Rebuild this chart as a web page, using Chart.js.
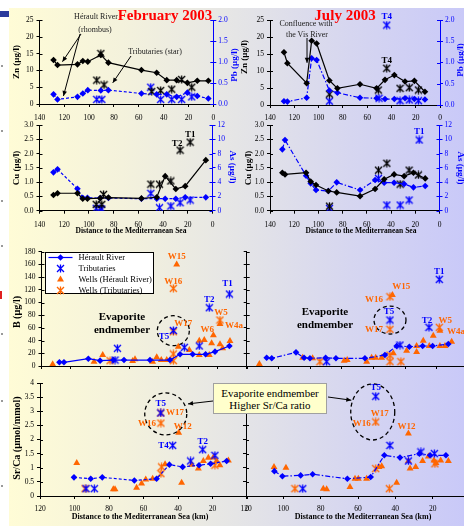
<!DOCTYPE html>
<html><head><meta charset="utf-8">
<script src="https://cdn.jsdelivr.net/npm/chart.js@4"></script>
<style>
html,body{margin:0;padding:0;overflow:hidden;background:#fff;}
#wrap{position:relative;width:464px;height:526px;overflow:hidden;background:#fff;}
#bg{position:absolute;left:9px;top:8px;width:455px;height:518px;background:linear-gradient(90deg,#fffcd6 0%,#f4f2dc 25%,#e5e5e6 50%,#d6d6f0 75%,#c9c9f8 100%);}
canvas{position:absolute;left:0;top:0;}
.t{position:absolute;transform:translate(-50%,-50%);white-space:nowrap;font-family:"Liberation Serif","Times New Roman",serif;line-height:1;}
.r{transform:translate(-50%,-50%) rotate(-90deg);}
.r2{transform:translate(-50%,-50%) rotate(90deg);}
.b{font-weight:bold;}
.m{position:absolute;}
</style></head>
<body><div id="wrap">
<div id="bg"></div>
<div class="m" style="left:0;top:11px;width:9px;height:6px;background:#2b3a9c"></div>
<div class="m" style="left:0;top:291px;width:2px;height:8px;background:#e02020"></div>
<div class="m" style="left:1px;top:65px;width:2px;height:2px;background:#999"></div>
<div class="m" style="left:1px;top:130px;width:2px;height:2px;background:#999"></div>
<div class="m" style="left:1px;top:200px;width:2px;height:2px;background:#999"></div>
<div class="m" style="left:1px;top:245px;width:2px;height:2px;background:#999"></div>
<div class="m" style="left:1px;top:333px;width:2px;height:2px;background:#999"></div>
<div class="m" style="left:1px;top:400px;width:2px;height:2px;background:#999"></div>
<div class="m" style="left:1px;top:485px;width:2px;height:2px;background:#999"></div>
<canvas id="c1" width="520" height="526"></canvas>
<canvas id="c2" width="520" height="526"></canvas>
<canvas id="c3" width="520" height="526"></canvas>
<canvas id="c4" width="520" height="526"></canvas>
<canvas id="c5" width="520" height="526"></canvas>
<canvas id="c6" width="520" height="526"></canvas>
<canvas id="c7" width="520" height="526"></canvas>
<canvas id="c8" width="520" height="526"></canvas>

<div class="t b" style="left:165px;top:15px;font-size:15px;color:#f00">February 2003</div>
<div class="t b" style="left:345px;top:15px;font-size:15px;color:#f00">July 2003</div>
<div class="t" style="left:96px;top:17px;font-size:8px;color:#222">Hérault River</div>
<div class="t" style="left:95px;top:30px;font-size:8px;color:#222">(rhombus)</div>
<div class="t" style="left:155px;top:52px;font-size:8px;color:#222">Tributaries (star)</div>
<div class="t" style="left:306px;top:24px;font-size:8px;color:#222">Confluence with</div>
<div class="t" style="left:307px;top:35px;font-size:8px;color:#222">the Vis River</div>

<div class="t b r" style="left:16px;top:62px;font-size:9px">Zn (µg/l)</div>
<div class="t b r" style="left:234px;top:65px;font-size:9px;color:#00f">Pb (µg/l)</div>
<div class="t b r" style="left:244px;top:57px;font-size:9px">Zn (µg/l)</div>
<div class="t b r" style="left:460px;top:60px;font-size:9px;color:#00f">Pb (µg/l)</div>
<div class="t b r" style="left:16px;top:168px;font-size:9px">Cu (µg/l)</div>
<div class="t b r2" style="left:232px;top:167px;font-size:9px;color:#00f">As (µg/l)</div>
<div class="t b r" style="left:248px;top:168px;font-size:9px">Cu (µg/l)</div>
<div class="t b r2" style="left:460px;top:168px;font-size:9px;color:#00f">As (µg/l)</div>
<div class="t b" style="left:131px;top:231px;font-size:7.5px">Distance to the Mediterranean Sea</div>
<div class="t b" style="left:361px;top:231px;font-size:7.5px">Distance to the Mediterranean Sea</div>
<div class="t b r" style="left:17px;top:312px;font-size:10px">B (µg/l)</div>
<div class="t b r" style="left:17px;top:438px;font-size:10px">Sr/Ca (µmol/mmol)</div>
<div class="t b" style="left:140px;top:517px;font-size:8px">Distance to the Mediterranean Sea (km)</div>
<div class="t b" style="left:363px;top:517px;font-size:8px">Distance to the Mediterranean Sea (km)</div>
<div class="t b" style="left:122px;top:322.5px;font-size:11px;line-height:13px;text-align:center">Evaporite<br>endmember</div>
<div class="t b" style="left:325px;top:317.5px;font-size:11px;line-height:13px;text-align:center">Evaporite<br>endmember</div>
<div class="m" style="left:213px;top:383px;width:114px;background:#ffffcc;border:1px solid #a0a0a0;font-family:'Liberation Serif','Times New Roman',serif;font-size:11px;line-height:12px;text-align:center;padding-top:3px;box-sizing:border-box;height:31px">Evaporite endmember<br>Higher Sr/Ca ratio</div>
</div>
<script>
// ---------------- DATA ----------------
// February 2003 – Zn / Pb
const febKmZn = [128.7, 125.5, 109.4, 105.1, 101.1, 90.6, 84.5, 57.9, 45.6, 37.5, 29.5, 20.9, 12.9, 4.0];
const febZn   = [13.1, 11.6, 11.8, 12.8, 12.6, 14.6, 12.3, 10.1, 9.3, 7.1, 7.1, 6.3, 6.9, 6.9];
const febPb   = [0.23, 0.11, 0.17, 0.25, 0.33, 0.32, 0.33, 0.25, 0.23, 0.23, 0.17, 0.27, 0.19, 0.13];
const febTribKmZn = [93.9, 88.0, 90.6, 49.6, 42.4, 33.5, 25.5, 17.4];
const febTribZn   = [7.1, 5.7, 15.0, 3.7, 4.0, 4.4, 7.3, 5.0];
const febTribKmPb = [93.9, 89.8, 50.4, 42.4, 33.5, 25.5, 17.4];
const febTribPb   = [0.11, 0.11, 0.40, 0.11, 0.11, 0.11, 0.17];
// July 2003 – Zn / Pb
const julKmZn = [128.5, 125.7, 109.8, 105.7, 101.6, 91.1, 84.5, 65.9, 52.2, 45.3, 37.6, 28.8, 21.1, 12.4];
const julZn   = [15.5, 12.3, 6.4, 18.9, 18.1, 7.2, 4.9, 6.1, 4.9, 7.4, 8.8, 6.9, 7.1, 3.9];
const julPb   = [0.09, 0.08, 0.17, 1.10, 1.06, 0.34, 0.29, 0.17, 0.16, 0.14, 0.14, 0.16, 0.14, 0.13];
const julTribKmZn = [91.1, 50.8, 43.9, 32.9, 25.3, 17.8];
const julTribZn   = [3.2, 4.4, 10.8, 4.9, 5.1, 4.4];
const julTribKmPb = [91.1, 50.2, 43.9, 32.9, 25.3, 17.8];
const julTribPb   = [0.09, 0.16, 1.88, 0.10, 0.12, 0.10];
// February 2003 – Cu / As
const febKmCu = [128.7, 125.4, 109.3, 105.0, 101.2, 90.9, 84.2, 57.5, 45.1, 38.3, 29.7, 22.1, 5.4];
const febCu   = [0.55, 0.61, 0.61, 0.42, 0.42, 0.44, 0.46, 0.43, 0.47, 1.21, 0.76, 0.86, 1.77];
const febAs   = [5.37, 5.79, 3.08, 1.82, 1.82, 1.77, 1.77, 1.68, 1.68, 1.68, 1.68, 1.87, 1.87];
const febTribKmCu = [94.1, 89.6, 88.2, 49.9, 42.9, 33.7, 26.2, 18.1];
const febTribCu   = [0.22, 0.22, 0.57, 0.93, 0.93, 1.04, 2.12, 2.40];
const febTribKmAs = [94.1, 90.9, 89.6, 49.9, 42.9, 33.7, 26.2, 18.1];
const febTribAs   = [0.33, 0.33, 0.23, 2.43, 0.42, 0.65, 1.12, 1.49];
// July 2003 – Cu / As
const julKmCu = [129.8, 127.6, 110.2, 106.4, 102.0, 91.8, 84.9, 65.6, 53.2, 45.7, 37.5, 29.2, 21.5, 11.8];
const julCu   = [1.33, 1.27, 1.33, 1.02, 0.90, 0.69, 0.64, 0.51, 0.76, 1.10, 1.27, 1.21, 1.33, 1.13];
const julAs   = [8.59, 9.90, 4.90, 3.83, 2.89, 2.75, 3.97, 2.89, 4.30, 3.92, 3.92, 3.73, 3.27, 3.45];
const julTribKmCu = [90.9, 50.4, 43.5, 32.5, 25.1, 17.4];
const julTribCu   = [0.16, 1.42, 1.66, 0.93, 1.42, 1.25];
const julTribKmAs = [90.9, 50.4, 43.5, 32.5, 25.1, 16.8];
const julTribAs   = [0.33, 4.53, 0.79, 0.79, 1.49, 9.90];
// February 2003 – B
const febKmB = [127.8, 124.7, 108.1, 100.1, 91.1, 83.8, 66.1, 52.5, 45.6, 37.0, 28.2, 21.8, 12.0];
const febB   = [5.8, 5.8, 11.5, 8.4, 9.4, 9.4, 9.4, 9.4, 18.4, 18.4, 18.4, 22.6, 31.5];
const febTribKmB = [89.9, 88.3, 50.2, 42.7, 32.5, 25.7, 12.0];
const febTribB   = [9.4, 27.8, 56.0, 29.4, 31.5, 91.8, 113.3];
const febWellHKmB = [132.4, 104.2, 98.3, 77.9, 76.3, 64.3, 61.5, 58.4, 54.7, 47.9, 46.8, 39.3, 32.5, 32.5, 29.1, 25.7, 24.1, 22.9, 18.4, 16.6, 11.6, 18.4];
const febWellHB   = [2.6, 6.8, 17.3, 7.9, 10.5, 6.8, 13.6, 9.4, 9.4, 160, 30.4, 25.2, 39.9, 17.3, 41.0, 17.3, 35.7, 48.3, 34.1, 27.8, 39.4, 66.0];
const febWellTKmB = [93.3, 50.2, 50.2, 50.2, 50.2, 18.4];
const febWellTB   = [8.4, 8.4, 18.9, 122.3, 54.0, 72.4];
// July 2003 – B
const julKmB = [127.4, 124.2, 108.9, 103.8, 100.1, 90.2, 83.7, 65.4, 52.8, 45.4, 37.4, 29.0, 22.7, 12.8];
const julB   = [13.1, 12.1, 21.5, 13.1, 12.1, 13.1, 12.1, 12.1, 17.3, 31.5, 30.4, 31.5, 31.5, 34.6];
const julTribKmB = [89.6, 49.6, 43.3, 25.0, 18.5];
const julTribB   = [6.8, 72.4, 33.0, 60.9, 136.4];
const julWellHKmB = [132.0, 104.7, 98.4, 78.5, 76.6, 64.3, 61.2, 58.6, 54.9, 48.1, 47.5, 39.1, 32.8, 32.8, 28.6, 22.3, 24.8, 18.1, 14.9, 10.7, 18.1];
const julWellHB   = [3.1, 13.1, 12.1, 8.4, 9.4, 6.8, 13.1, 13.1, 13.1, 111.8, 19.9, 24.1, 31.5, 22.0, 39.9, 47.8, 31.5, 31.5, 31.5, 38.3, 55.6];
const julWellTKmB = [93.8, 49.6, 49.6, 49.6, 49.6, 42.7, 18.5];
const julWellTB   = [6.8, 109.0, 57.7, 6.8, 17.0, 6.8, 60.9];
// February 2003 – Sr/Ca
const febKmSr = [100.3, 90.6, 83.9, 65.3, 52.4, 45.0, 37.3, 27.8, 21.1, 11.8];
const febSr   = [0.66, 0.61, 0.66, 0.55, 0.61, 1.11, 1.03, 1.09, 1.14, 1.24];
const febTribKmSr = [93.3, 88.5, 50.0, 43.1, 32.7, 25.7, 18.6];
const febTribSr   = [0.26, 0.26, 2.94, 1.79, 1.24, 1.64, 1.44];
const febWellHKmSr = [98.7, 77.5, 76.5, 64.0, 61.1, 58.7, 54.7, 47.5, 39.6, 37.9, 32.1, 28.2, 25.3, 22.4, 19.5, 17.6, 15.7, 10.8];
const febWellHSr   = [1.17, 0.24, 0.24, 0.29, 0.44, 0.58, 0.61, 1.12, 2.24, 0.47, 1.11, 0.97, 1.24, 1.35, 1.36, 1.24, 1.09, 1.26];
const febWellTKmSr = [93.9, 49.9, 49.9, 49.9, 49.5, 18.6];
const febWellTSr   = [0.26, 2.94, 2.58, 0.79, 1.03, 1.09];
// July 2003 – Sr/Ca
const julKmSr = [104.8, 100.5, 90.7, 84.3, 65.7, 53.2, 45.9, 37.5, 27.1, 21.4, 12.9];
const julSr   = [0.88, 0.70, 0.73, 0.77, 0.61, 0.67, 1.44, 1.36, 1.50, 1.44, 1.44];
const julTribKmSr = [89.6, 50.5, 42.9, 33.0, 26.3, 19.1];
const julTribSr   = [0.26, 3.53, 1.79, 1.24, 1.56, 1.50];
const julWellHKmSr = [105.0, 98.6, 78.6, 76.8, 64.3, 61.6, 59.8, 55.4, 48.8, 47.3, 39.3, 33.0, 33.0, 32.1, 29.1, 25.4, 22.3, 19.3, 18.2, 15.7, 11.6];
const julWellHSr   = [1.03, 1.00, 0.26, 0.24, 0.32, 0.61, 0.61, 0.61, 1.03, 1.05, 0.47, 2.21, 1.24, 0.97, 1.03, 1.24, 1.40, 1.26, 1.17, 1.26, 1.24];
const julWellTKmSr = [93.8, 50.5, 50.5, 43.2, 18.8];
const julWellTSr   = [0.26, 2.62, 0.97, 0.26, 1.14];

// ---------------- STYLE / HELPERS ----------------
const W = 520, H = 526;
const AXL = 30, AXR = 25, AXB = 22;   // fixed axis box sizes
const FONT = '"Liberation Serif", "Times New Roman", serif';
const BLUE = '#0000ff', ORANGE = '#ff6600', BLACK = '#000000';
Chart.defaults.font.family = FONT;

function starImg(color) {
  const c = document.createElement('canvas'); c.width = 9; c.height = 9;
  const g = c.getContext('2d'); g.strokeStyle = color; g.lineWidth = 1.3;
  g.beginPath(); g.moveTo(1, 1); g.lineTo(8, 8); g.moveTo(8, 1); g.lineTo(1, 8);
  g.moveTo(4.5, 0.5); g.lineTo(4.5, 8.5); g.stroke();
  return c;
}
const pts = (xs, ys) => xs.map((x, i) => ({ x, y: ys[i] }));
function river(label, xs, ys, color, dash, yID) {
  return { label, data: pts(xs, ys), yAxisID: yID || 'y', showLine: true, borderColor: color, borderWidth: 1.2,
    borderDash: dash || [], pointStyle: 'rectRot', pointRadius: 3.3, pointBackgroundColor: color,
    pointBorderColor: color, pointBorderWidth: 0, backgroundColor: color };
}
function stars(label, xs, ys, color, yID) {
  return { label, data: pts(xs, ys), yAxisID: yID || 'y', showLine: false, pointStyle: starImg(color), pointRadius: 4.5,
    pointBackgroundColor: color, pointBorderColor: color, backgroundColor: color, borderColor: color };
}
function tris(label, xs, ys) {
  return { label, data: pts(xs, ys), yAxisID: 'y', showLine: false, pointStyle: 'triangle', pointRadius: 4,
    pointBackgroundColor: ORANGE, pointBorderColor: ORANGE, pointBorderWidth: 0, backgroundColor: ORANGE, borderColor: ORANGE };
}
function fixFit(s) {
  if (s.isHorizontal()) s.height = AXB;
  else s.width = s.position === 'left' ? AXL : AXR;
  s.paddingLeft = s.paddingRight = s.paddingTop = s.paddingBottom = 0;
}
function lin(pos, min, max, step, o = {}) {
  const col = o.color || BLACK;
  return {
    type: 'linear', position: pos, min, max, reverse: !!o.reverse, afterFit: fixFit,
    border: { display: true, color: col, width: 1 },
    grid: { display: true, drawOnChartArea: false, drawTicks: true, tickLength: 3, color: col, lineWidth: 1 },
    ticks: { display: o.labels !== false, stepSize: step, color: col, autoSkip: false, maxRotation: 0,
      padding: o.pad != null ? o.pad : 3, font: { family: FONT, size: 7.5 }, callback: o.fmt || (v => String(v)) }
  };
}
const f1 = v => v.toFixed(1);

const ANN = {};
function resolvePt(chart, p) {
  if (p.px != null) return [p.px, p.py];
  return [chart.scales.x.getPixelForValue(p.x), chart.scales[p.s || 'y'].getPixelForValue(p.y)];
}
const innerTicks = {
  id: 'innerTicks',
  afterDraw(chart) {
    const ctx = chart.ctx;
    Object.values(chart.scales).forEach(s => {
      if (s.isHorizontal()) return;
      ctx.save(); ctx.strokeStyle = s.options.border.color; ctx.lineWidth = 1; ctx.beginPath();
      const left = s.position === 'left';
      const x = left ? chart.chartArea.left : chart.chartArea.right, dir = left ? 1 : -1;
      s.ticks.forEach((t, i) => {
        const y = Math.round(s.getPixelForTick(i)) + 0.5;
        ctx.moveTo(x, y); ctx.lineTo(x + dir * 3, y);
      });
      ctx.stroke(); ctx.restore();
    });
  }
};
const annotPlugin = {
  id: 'annotPlugin',
  afterDraw(chart) {
    const a = ANN[chart.canvas.id]; if (!a) return;
    const ctx = chart.ctx;
    (a.circles || []).forEach(c => {
      const p = chart.getDatasetMeta(c.d).data[c.i];
      ctx.save(); ctx.strokeStyle = '#000'; ctx.lineWidth = 1.3; ctx.setLineDash([4, 3]);
      ctx.beginPath(); ctx.ellipse(p.x + c.dx, p.y + c.dy, c.rx, c.ry, 0, 0, Math.PI * 2); ctx.stroke(); ctx.restore();
    });
    (a.arrows || []).forEach(ar => {
      const [x1, y1] = resolvePt(chart, ar.from), [x2, y2] = resolvePt(chart, ar.to);
      ctx.save(); ctx.strokeStyle = '#000'; ctx.fillStyle = '#000'; ctx.lineWidth = 1;
      ctx.beginPath(); ctx.moveTo(x1, y1); ctx.lineTo(x2, y2); ctx.stroke();
      const ang = Math.atan2(y2 - y1, x2 - x1), L = 5, Wd = 2.3;
      ctx.beginPath(); ctx.moveTo(x2, y2);
      ctx.lineTo(x2 - L * Math.cos(ang) + Wd * Math.sin(ang), y2 - L * Math.sin(ang) - Wd * Math.cos(ang));
      ctx.lineTo(x2 - L * Math.cos(ang) - Wd * Math.sin(ang), y2 - L * Math.sin(ang) + Wd * Math.cos(ang));
      ctx.closePath(); ctx.fill(); ctx.restore();
    });
    (a.labels || []).forEach(l => {
      const p = chart.getDatasetMeta(l.d).data[l.i];
      ctx.save(); ctx.font = 'bold 9px ' + FONT; ctx.fillStyle = l.c; ctx.textAlign = l.a || 'center';
      ctx.textBaseline = 'middle'; ctx.fillText(l.t, p.x + (l.dx || 0), p.y + (l.dy || 0)); ctx.restore();
    });
    if (a.legend) {
      const ca = chart.chartArea, x0 = Math.round(ca.left + 3) + 0.5, y0 = Math.round(ca.top) + 0.5, w = 108, h = 41;
      ctx.save(); ctx.fillStyle = '#fff'; ctx.strokeStyle = '#000'; ctx.lineWidth = 1;
      ctx.fillRect(x0, y0, w, h); ctx.strokeRect(x0, y0, w, h);
      chart.data.datasets.forEach((ds, k) => {
        const y = y0 + 5 + k * 11;
        if (ds.showLine) {
          ctx.strokeStyle = ds.borderColor; ctx.lineWidth = 1.2; ctx.setLineDash(ds.borderDash || []);
          ctx.beginPath(); ctx.moveTo(x0 + 3, y); ctx.lineTo(x0 + 27, y); ctx.stroke(); ctx.setLineDash([]);
        }
        ctx.fillStyle = ds.pointBackgroundColor; ctx.strokeStyle = ds.pointBorderColor;
        Chart.helpers.drawPoint(ctx, { pointStyle: ds.pointStyle, radius: ds.pointRadius, rotation: 0, borderWidth: 0 }, x0 + 15, y);
        ctx.fillStyle = '#000'; ctx.font = '8.5px ' + FONT; ctx.textAlign = 'left'; ctx.textBaseline = 'middle';
        ctx.fillText(ds.label, x0 + 33, y);
      });
      ctx.restore();
    }
  }
};
Chart.register(innerTicks, annotPlugin);

function panel(id, box, scales, datasets, ann) {
  ANN[id] = ann || {};
  const hasRight = Object.values(scales).some(s => s.position === 'right');
  return new Chart(document.getElementById(id), {
    type: 'scatter',
    data: { datasets },
    options: {
      responsive: false, animation: false, events: [],
      layout: { padding: { left: box[0] - AXL, top: box[1], right: W - box[2] - (hasRight ? AXR : 0), bottom: H - box[3] - AXB } },
      plugins: { legend: { display: false }, tooltip: { enabled: false } },
      scales
    }
  });
}
const DASH = [3, 2], DASHDOT = [5, 2, 1.5, 2];

// ---------------- PANELS ----------------
// Zn / Pb February
panel('c1', [39.5, 20, 213.3, 104], {
  x: lin('bottom', 0, 140, 20, { reverse: true, pad: 7 }),
  y: lin('left', 0, 25, 5),
  y2: lin('right', 0, 2, 0.5, { color: BLUE, fmt: f1, pad: 2 })
}, [
  river('Hérault River', febKmZn, febZn, BLACK, [], 'y'),
  river('Hérault River', febKmZn, febPb, BLUE, DASH, 'y2'),
  stars('Tributaries', febTribKmZn, febTribZn, BLACK, 'y'),
  stars('Tributaries', febTribKmPb, febTribPb, BLUE, 'y2')
], {
  arrows: [
    { from: { px: 81, py: 34 }, to: { x: 121.5, y: 12.6 } },
    { from: { px: 80, py: 34 }, to: { x: 120.7, y: 0.19, s: 'y2' } },
    { from: { px: 131, py: 56 }, to: { x: 81, y: 6.3 } }
  ]
});
// Zn / Pb July
panel('c2', [270, 20, 440, 105], {
  x: lin('bottom', 0, 140, 20, { reverse: true, pad: 6 }),
  y: lin('left', 0, 25, 5),
  y2: lin('right', 0, 2, 0.5, { color: BLUE, fmt: f1, pad: 2 })
}, [
  river('Hérault River', julKmZn, julZn, BLACK, [], 'y'),
  river('Hérault River', julKmZn, julPb, BLUE, DASHDOT, 'y2'),
  stars('Tributaries', julTribKmZn, julTribZn, BLACK, 'y'),
  stars('Tributaries', julTribKmPb, julTribPb, BLUE, 'y2')
], {
  labels: [{ d: 3, i: 2, t: 'T4', c: BLUE, dy: -8 }, { d: 2, i: 2, t: 'T4', c: BLACK, dy: -8 }],
  arrows: [{ from: { px: 307, py: 38 }, to: { x: 109.5, y: 12.4 } }]
});
// Cu / As February
panel('c3', [39.5, 125, 212.5, 210.7], {
  x: lin('bottom', 0, 140, 20, { reverse: true, pad: 7 }),
  y: lin('left', 0, 3, 0.5, { fmt: f1 }),
  y2: lin('right', 0, 12, 2, { color: BLUE, pad: 2 })
}, [
  river('Hérault River', febKmCu, febCu, BLACK, [], 'y'),
  river('Hérault River', febKmCu, febAs, BLUE, DASH, 'y2'),
  stars('Tributaries', febTribKmCu, febTribCu, BLACK, 'y'),
  stars('Tributaries', febTribKmAs, febTribAs, BLUE, 'y2')
], {
  labels: [{ d: 2, i: 6, t: 'T2', c: BLACK, dx: -3, dy: -6 }, { d: 2, i: 7, t: 'T1', c: BLACK, dy: -7 }]
});
// Cu / As July
panel('c4', [270, 125, 439.5, 210.7], {
  x: lin('bottom', 0, 140, 20, { reverse: true, pad: 7 }),
  y: lin('left', 0, 3, 0.5, { fmt: f1 }),
  y2: lin('right', 0, 12, 2, { color: BLUE, pad: 2 })
}, [
  river('Hérault River', julKmCu, julCu, BLACK, [], 'y'),
  river('Hérault River', julKmCu, julAs, BLUE, DASHDOT, 'y2'),
  stars('Tributaries', julTribKmCu, julTribCu, BLACK, 'y'),
  stars('Tributaries', julTribKmAs, julTribAs, BLUE, 'y2')
], {
  labels: [{ d: 3, i: 5, t: 'T1', c: BLUE, dy: -8 }]
});
// B February
panel('c5', [41.5, 251.7, 247, 366], {
  x: lin('bottom', 0, 140, 20, { reverse: true, labels: false }),
  y: lin('left', 0, 180, 20)
}, [
  river('Hérault River', febKmB, febB, BLUE, []),
  stars('Tributaries', febTribKmB, febTribB, BLUE),
  tris('Wells (Hérault River)', febWellHKmB, febWellHB),
  stars('Wells (Tributaries)', febWellTKmB, febWellTB, ORANGE)
], {
  legend: true,
  circles: [{ d: 3, i: 4, dx: 0, dy: -1, rx: 16, ry: 15 }],
  labels: [
    { d: 1, i: 6, t: 'T1', c: BLUE, dx: -2, dy: -10 },
    { d: 1, i: 5, t: 'T2', c: BLUE, dy: -8 },
    { d: 1, i: 2, t: 'T5', c: BLUE, a: 'right', dx: -4, dy: 6 },
    { d: 2, i: 9, t: 'W15', c: ORANGE, dy: -8 },
    { d: 2, i: 12, t: 'W6', c: ORANGE, dx: 8, dy: -11 },
    { d: 2, i: 21, t: 'W4a', c: ORANGE, a: 'left', dx: 5, dy: 2 },
    { d: 3, i: 3, t: 'W16', c: ORANGE, dy: -7 },
    { d: 3, i: 4, t: 'W17', c: ORANGE, a: 'left', dx: 1, dy: -8 },
    { d: 3, i: 5, t: 'W5', c: ORANGE, dx: 1, dy: -7 }
  ]
});
// B July
panel('c6', [246.7, 251.7, 468.6, 366], {
  x: lin('bottom', 0, 140, 20, { reverse: true, labels: false }),
  y: lin('left', 0, 180, 20, { labels: false })
}, [
  river('Hérault River', julKmB, julB, BLUE, DASHDOT),
  stars('Tributaries', julTribKmB, julTribB, BLUE),
  tris('Wells (Hérault River)', julWellHKmB, julWellHB),
  stars('Wells (Tributaries)', julWellTKmB, julWellTB, ORANGE)
], {
  circles: [{ d: 1, i: 1, dx: 0, dy: 0, rx: 16, ry: 14 }],
  labels: [
    { d: 1, i: 4, t: 'T1', c: BLUE, dy: -8 },
    { d: 1, i: 3, t: 'T2', c: BLUE, dx: -2, dy: -7 },
    { d: 1, i: 1, t: 'T5', c: BLUE, dx: -1, dy: -8 },
    { d: 2, i: 9, t: 'W15', c: ORANGE, dx: 9, dy: -8 },
    { d: 2, i: 20, t: 'W4a', c: ORANGE, a: 'left', dx: 7, dy: 1 },
    { d: 3, i: 1, t: 'W16', c: ORANGE, a: 'right', dx: -7, dy: 3 },
    { d: 3, i: 2, t: 'W17', c: ORANGE, a: 'right', dx: -7, dy: 0 },
    { d: 3, i: 6, t: 'W5', c: ORANGE, dx: 6, dy: -7 }
  ]
});
// Sr/Ca February
panel('c7', [40, 383, 247, 496], {
  x: lin('bottom', 0, 120, 20, { reverse: true, pad: 6 }),
  y: lin('left', 0, 4, 0.5)
}, [
  river('Hérault River', febKmSr, febSr, BLUE, DASH),
  stars('Tributaries', febTribKmSr, febTribSr, BLUE),
  tris('Wells (Hérault River)', febWellHKmSr, febWellHSr),
  stars('Wells (Tributaries)', febWellTKmSr, febWellTSr, ORANGE)
], {
  circles: [{ d: 1, i: 2, dx: 5, dy: 1, rx: 21, ry: 21 }],
  labels: [
    { d: 1, i: 2, t: 'T5', c: BLUE, dy: -9 },
    { d: 1, i: 3, t: 'T4', c: BLUE, a: 'right', dx: -4, dy: 0 },
    { d: 1, i: 5, t: 'T2', c: BLUE, dy: -8 },
    { d: 2, i: 8, t: 'W12', c: ORANGE, dx: 4, dy: -6 },
    { d: 3, i: 1, t: 'W17', c: ORANGE, a: 'left', dx: 5, dy: 0 },
    { d: 3, i: 2, t: 'W16', c: ORANGE, a: 'right', dx: -5, dy: 1 }
  ],
  arrows: [{ from: { px: 213, py: 401 }, to: { x: 34.2, y: 3.26 } }]
});
// Sr/Ca July
panel('c8', [246, 383, 470, 496], {
  x: lin('bottom', 0, 120, 20, { reverse: true, pad: 6 }),
  y: lin('left', 0, 4, 0.5, { labels: false })
}, [
  river('Hérault River', julKmSr, julSr, BLUE, DASHDOT),
  stars('Tributaries', julTribKmSr, julTribSr, BLUE),
  tris('Wells (Hérault River)', julWellHKmSr, julWellHSr),
  stars('Wells (Tributaries)', julWellTKmSr, julWellTSr, ORANGE)
], {
  circles: [{ d: 3, i: 1, dx: -3, dy: -10, rx: 22, ry: 28 }],
  labels: [
    { d: 1, i: 1, t: 'T5', c: BLUE, dy: -9 },
    { d: 3, i: 1, t: 'W17', c: ORANGE, dx: 4, dy: -8 },
    { d: 3, i: 1, t: 'W16', c: ORANGE, a: 'right', dx: -5, dy: 2 },
    { d: 2, i: 11, t: 'W12', c: ORANGE, dx: -2, dy: -7 }
  ],
  arrows: [{ from: { px: 328, py: 397 }, to: { x: 63.6, y: 3.39 } }]
});
</script>
</body></html>
